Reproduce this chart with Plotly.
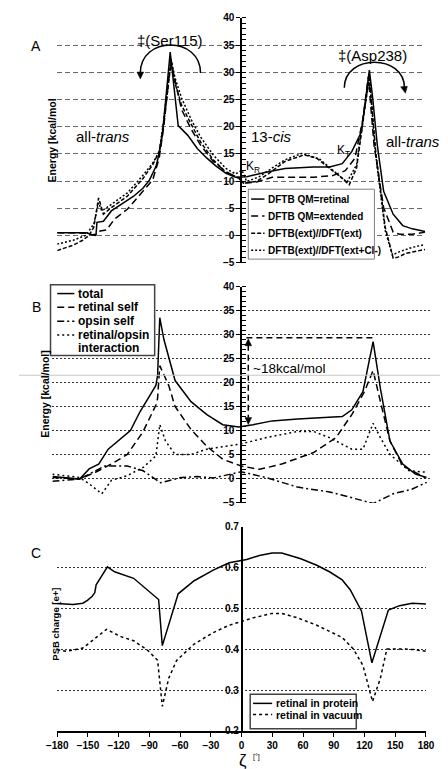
import plotly.graph_objects as go

W, H = 448, 769
FONT = "Liberation Sans, Arial, sans-serif"

# ---------------- DATA ----------------
# Panel A: energy profiles [kcal/mol] vs torsion zeta [deg]
A_ret_x = [-180, -152, -145.7, -142, -141.1, -134.8, -127, -117.7, -105.2, -95.9, -89.6, -83.3, -80.2, -77.1,
           -73.4, -69.4, -61.6, -52.2, -42.9, -33.5, -24.2, -14.8, -5.5, 5.5, 24.2, 42.9, 70.9, 86.5, 99,
           108.3, 117.7, 122.3, 125.5, 128.6, 133.3, 139.5, 148.8, 158.2, 167.6, 180]
A_ret_y = [0.5, 0.5, 0.1, 0.2, 2.4, 2.6, 4.5, 5.7, 7.2, 8.7, 10.2, 12.7, 15.1, 18.4,
           25.6, 33.7, 20.2, 18.4, 16.0, 14.2, 12.7, 11.4, 10.7, 10.8, 11.6, 12.3, 12.6, 12.6, 13.2,
           15.4, 19.0, 25.6, 30.4, 25.6, 16.6, 8.1, 3.9, 1.8, 1.2, 0.7]

A_ext_x = [-180, -152, -142.6, -138, -131.7, -123.9, -111.4, -95.9, -86.5, -80.2, -75.6, -70.9, -68.4, -58.4,
           -49.1, -39.7, -27.3, -14.8, -2.3, 2.3, 14.8, 30.4, 70.9, 89.6, 102, 111.4, 119.2, 124.5, 130.1,
           139.5, 148.8, 155.1, 167.6, 180]
A_ext_y = [0.5, 0.4, 0.0, 0.8, 1.0, 3.0, 4.8, 8.1, 10.2, 14.2, 20.2, 28.6, 31.6, 23.2,
           19.6, 16.6, 13.6, 11.7, 10.5, 9.6, 9.8, 10.7, 10.7, 11.0, 11.9, 14.2, 21.4, 29.2, 16.6,
           5.1, 0.6, 0.2, 0.2, 0.6]

A_dft_x = [-180, -164.4, -155.1, -148.9, -144.2, -139.5, -134.8, -127, -111.4, -95.9, -86.5, -80.2, -75.6,
           -70.9, -68.4, -64.7, -58.4, -49.1, -39.7, -27.3, -14.8, -2.3, 2.3, 14.8, 27.3, 42.9, 61.6, 74,
           86.5, 99, 105.8, 113, 119.2, 125.5, 131.7, 141, 148.8, 153.5, 161.3, 180]
A_dft_y = [-2.8, -1.8, -0.9, 0.0, 1.5, 6.9, 3.9, 5.1, 7.2, 10.5, 13.0, 15.4, 20.8,
           28.6, 32.2, 28.0, 24.0, 20.5, 17.2, 13.9, 11.6, 10.6, 9.6, 9.9, 11.4, 13.6, 14.8, 14.2,
           12.4, 10.5, 9.3, 12.4, 20.8, 29.5, 15.4, 1.5, -4.2, -4.0, -3.3, -2.6]

A_cl_x = [-180, -164.4, -152, -144.2, -139.5, -136.4, -127, -111.4, -95.9, -86.5, -80.2, -75.6, -70.9, -68.7,
          -64.7, -58.4, -49.1, -39.7, -27.3, -14.8, -5.5, 0.8, 5.5, 17.9, 30.4, 42.9, 60, 77.1, 92.7,
          103.6, 113, 119.2, 125.5, 131.7, 141, 148.2, 155.1, 167.6, 180]
A_cl_y = [-1.6, -0.9, 0.0, 2.1, 6.0, 4.5, 5.7, 7.8, 11.1, 13.3, 15.4, 21.4, 29.2, 32.5,
          29.0, 25.3, 21.4, 18.1, 14.8, 12.3, 11.3, 12.0, 9.9, 10.8, 12.4, 13.9, 15.1, 14.0, 11.5,
          9.8, 13.0, 21.4, 28.9, 14.8, 0.9, -3.6, -3.0, -2.2, -1.7]

A_names = ["DFTB QM=retinal", "DFTB QM=extended", "DFTB(ext)//DFT(ext)", "DFTB(ext)//DFT(ext+Cl-)"]

# Panel B: energy decomposition [kcal/mol]
B_tot_x = [-180, -166.2, -154, -145, -135.9, -126.8, -117.7, -105.6, -96.5, -87.3, -81.3, -79.7, -77.6, -73.7,
           -63, -47.8, -32.7, -17.5, -2.3, 11.4, 29.6, 53.9, 78.2, 96.5, 105.6, 116.2, 125.9, 132.9, 142,
           154.2, 166.3, 176.9]
B_tot_y = [0.5, 0.3, 0.0, 2.1, 3.1, 6.2, 7.9, 10.1, 14.0, 17.5, 19.5, 21.6, 33.6, 29.1,
           20.5, 16.1, 13.4, 11.3, 10.8, 11.3, 12.1, 12.5, 12.7, 13.0, 14.4, 18.2, 28.6, 18.8, 7.9,
           3.1, 1.0, 0.3]

B_ret_x = [-180, -154, -139, -123.8, -108.6, -93.4, -81.3, -79.7, -77.6, -69.1, -63, -47.8, -32.7, -17.5,
           0, 17.5, 38.7, 69.1, 90.4, 105.6, 117.7, 125.9, 132.9, 142, 154.2, 175.4]
B_ret_y = [0.3, 0.0, 1.4, 3.1, 5.1, 9.9, 15.4, 16.8, 23.6, 19.5, 15.1, 10.3, 6.8, 4.1,
           2.7, 2.0, 3.1, 5.5, 8.6, 13.4, 18.2, 22.6, 16.1, 7.9, 2.7, 0.3]

B_ops_x = [-180, -154, -129.9, -108.6, -93.4, -76.8, -57, -41.8, -26.6, 0, 23.5, 53.9, 84.3, 126.2, 145,
           163.3, 177]
B_ops_y = [-0.5, 0.0, 2.7, 2.7, 1.7, -0.8, 0.3, 0.5, 0.2, 1.5, 0.3, -1.7, -2.7, -5.1, -3.1,
           -2.1, -0.7]

B_int_x = [-180, -154, -145, -132.9, -123.8, -108.6, -93.4, -81.3, -77.6, -72.1, -63, -47.8, -32.7, -14.4,
           0, 23.5, 53.9, 69.1, 84.3, 105.6, 116.2, 125.9, 132.9, 142, 160.3, 177]
B_int_y = [1.0, 0.3, -1.0, -3.1, -0.3, 0.7, 2.4, 4.8, 11.3, 7.9, 5.1, 5.1, 6.2, 6.8,
           7.3, 8.6, 9.9, 9.9, 8.6, 6.2, 6.2, 11.6, 8.6, 5.1, 1.7, 1.4]

B_names = ["total", "retinal self", "opsin self", "retinal/opsin"]

# Panel C: PSB charge [e+]
C_prot_x = [-180, -164.5, -155, -150.5, -145.8, -143.3, -142, -138, -131, -124, -105.4, -81, -77.4, -61.9,
            -46.3, -27.7, -12.1, 5, 17.4, 29.8, 39.2, 57.8, 73.4, 85.8, 98.2, 106, 117, 127.2, 143.3,
            154.2, 166.6, 180]
C_prot_y = [0.512, 0.510, 0.513, 0.520, 0.530, 0.539, 0.558, 0.574, 0.602, 0.590, 0.574, 0.522, 0.409, 0.536,
            0.568, 0.594, 0.612, 0.620, 0.630, 0.636, 0.636, 0.622, 0.606, 0.590, 0.570, 0.546, 0.494, 0.367,
            0.496, 0.507, 0.513, 0.511]

C_vac_x = [-180, -170.7, -155, -145.8, -131.8, -117.8, -105.4, -91.4, -82, -77.4, -71.2, -63.4, -46.3, -27.7,
           -12.1, 11.2, 29.8, 39.2, 54.7, 73.4, 85.8, 98.2, 109, 118.4, 127.8, 135.5, 141.8, 157.3, 169.7, 180]
C_vac_y = [0.399, 0.395, 0.403, 0.421, 0.449, 0.431, 0.421, 0.397, 0.373, 0.260, 0.329, 0.373, 0.413, 0.441,
           0.459, 0.477, 0.488, 0.488, 0.477, 0.459, 0.445, 0.429, 0.401, 0.361, 0.272, 0.329, 0.401, 0.401,
           0.399, 0.395]

C_names = ["retinal in protein", "retinal in vacuum"]

x_ticks = [-180, -150, -120, -90, -60, -30, 0, 30, 60, 90, 120, 150, 180]

# ---------------- STYLES ----------------
A_dash = ["solid", "7px,4px", "4px,2px", "2px,2px"]
B_dash = ["solid", "7px,4px", "7px,3px,2px,3px", "2px,3px"]
C_dash = ["solid", "3px,3px"]


def PX(x):
    return x / W


def PY(y):
    return 1 - y / H


fig = go.Figure()

for (xs, ys), d in zip([(A_ret_x, A_ret_y), (A_ext_x, A_ext_y), (A_dft_x, A_dft_y), (A_cl_x, A_cl_y)], A_dash):
    fig.add_trace(go.Scatter(x=xs, y=ys, mode="lines", xaxis="x", yaxis="y", showlegend=False,
                             line=dict(color="black", width=1.5, dash=d)))
for (xs, ys), d in zip([(B_tot_x, B_tot_y), (B_ret_x, B_ret_y), (B_ops_x, B_ops_y), (B_int_x, B_int_y)], B_dash):
    fig.add_trace(go.Scatter(x=xs, y=ys, mode="lines", xaxis="x2", yaxis="y2", showlegend=False,
                             line=dict(color="black", width=1.5, dash=d)))
for (xs, ys), d in zip([(C_prot_x, C_prot_y), (C_vac_x, C_vac_y)], C_dash):
    fig.add_trace(go.Scatter(x=xs, y=ys, mode="lines", xaxis="x3", yaxis="y3", showlegend=False,
                             line=dict(color="black", width=1.5, dash=d)))

tickfont = dict(family=FONT, size=10, color="black", weight="bold")


def yax(domain, rng, dtick, pos, gridcolor, griddash, minor=True, fmt=None):
    d = dict(domain=domain, range=rng, dtick=dtick, anchor="free", position=pos,
             showline=True, linecolor="black", linewidth=1.5,
             ticks="outside", ticklen=4, tickwidth=1, tickcolor="black",
             showgrid=True, gridcolor=gridcolor, griddash=griddash, gridwidth=1,
             zeroline=False, tickfont=tickfont)
    if fmt:
        d["tickformat"] = fmt
    if minor:
        d["minor"] = dict(dtick=1, ticks="inside", ticklen=4, tickwidth=1, tickcolor="black", showgrid=False)
    return d


layout = dict(
    width=W, height=H, margin=dict(l=0, r=0, t=0, b=0),
    paper_bgcolor="white", plot_bgcolor="white", showlegend=False,
    xaxis=dict(domain=[PX(40), PX(425)], range=[-180, 180], visible=False, anchor="y"),
    xaxis2=dict(domain=[PX(35), PX(430)], range=[-180, 180], visible=False, anchor="y2"),
    xaxis3=dict(domain=[PX(40), PX(426)], range=[-180, 180], anchor="y3", showline=True,
                linecolor="black", linewidth=1.5, ticks="outside", ticklen=4, tickcolor="black",
                tickvals=x_ticks, showgrid=False, zeroline=False, tickfont=tickfont),
    yaxis=yax([PY(252.5), PY(4)], [-5, 40], 5, PX(232.5), "#6a6a6a", "5px,3px"),
    yaxis2=yax([PY(496.7), PY(277.3)], [-5, 40], 5, PX(232.5), "#333333", "2px,2px"),
    yaxis3=yax([PY(728.3), PY(521)], [0.2, 0.7], 0.1, PX(233), "#333333", "2px,2px", minor=False, fmt=".1f"),
)
layout["yaxis3"]["ticks"] = ""
fig.update_layout(**layout)

shapes = []
ann = []


def text(x, y, s, size, bold=False, xanchor="center", angle=0):
    ann.append(dict(x=PX(x), y=PY(y), xref="paper", yref="paper", text=s, showarrow=False,
                    xanchor=xanchor, yanchor="middle", textangle=angle,
                    font=dict(family=FONT, size=size, color="black", weight="bold" if bold else "normal")))


def pline(x0, y0, x1, y1, dash="solid", width=1.5, color="black"):
    shapes.append(dict(type="line", xref="paper", yref="paper", x0=PX(x0), y0=PY(y0), x1=PX(x1), y1=PY(y1),
                       line=dict(color=color, width=width, dash=dash), layer="above"))


def tri(pts):
    p = "M " + " L ".join("{} {}".format(PX(a), PY(b)) for a, b in pts) + " Z"
    shapes.append(dict(type="path", xref="paper", yref="paper", path=p, fillcolor="black",
                       line=dict(color="black", width=0.5), layer="above"))


def arc(cx, cy, rx, ry):
    k = 4 / 3
    p = "M {} {} C {} {} {} {} {} {}".format(PX(cx - rx), PY(cy), PX(cx - rx), PY(cy - k * ry),
                                            PX(cx + rx), PY(cy - k * ry), PX(cx + rx), PY(cy))
    shapes.append(dict(type="path", xref="paper", yref="paper", path=p,
                       line=dict(color="black", width=1.5), layer="above"))


# Panel labels
text(18, 33, "A", 14)
text(18, 298, "B", 14)
text(18, 548, "C", 14)

# Panel A annotations
text(158.5, 27, "‡(Ser115)", 15)
text(370, 42, "‡(Asp238)", 15)
arc(158.5, 60, 31.5, 28.5)
tri([(123.5, 59), (130.5, 59), (127, 66)])
arc(372, 75, 31.5, 26)
tri([(399.5, 74), (406.5, 73.5), (404.5, 80.5)])
text(87.5, 124, "all-<i>trans</i>", 15)
text(264, 124, "13-<i>cis</i>", 15)
text(412.5, 130, "all-<i>trans</i>", 15)
text(245, 155, "K<sub>R</sub>", 12)
text(340, 139, "K<sub>T</sub>", 12)
text(35, 128, "Energy [kcal/mol", 10.5, bold=True, angle=-90)

# Panel A legend
shapes.append(dict(type="rect", xref="paper", yref="paper", x0=PX(240), y0=PY(249), x1=PX(372), y1=PY(178),
                   fillcolor="white", line=dict(color="#808080", width=1), layer="above"))
for i, (nm, d) in enumerate(zip(A_names, A_dash)):
    yy = 188 + i * 17.3
    pline(243, yy, 257, yy, dash=d, width=1.5)
    text(258.5, yy, nm, 10, bold=True, xanchor="left")

# Panel B annotations
text(27, 386, "Energy [kcal/mol]", 10.5, bold=True, angle=-90)
pline(238, 329, 371, 329, dash="6px,4px", width=1.5)
pline(240, 336, 240, 410, dash="6px,4px", width=1.5)
tri([(236.5, 337), (243.5, 337), (240, 330)])
tri([(236.5, 410), (243.5, 410), (240, 417)])
text(243, 360, "~18kcal/mol", 13.5, xanchor="left")

# Panel B legend
shapes.append(dict(type="rect", xref="paper", yref="paper", x0=PX(33), y0=PY(347), x1=PX(142), y1=PY(275),
                   fillcolor="white", line=dict(color="#444444", width=1.5), layer="above"))
for i, (nm, d) in enumerate(zip(B_names, B_dash)):
    yy = 284 + i * 14
    pline(40, yy, 58, yy, dash=d, width=1.5)
    text(60, yy, nm, 12, bold=True, xanchor="left")
text(60, 339.5, "interaction", 12, bold=True, xanchor="left")

# Panel C annotations
text(38, 620, "PSB charge [e+]", 9.5, bold=True, angle=-90)
text(234, 758, "ζ", 17)
text(243, 755, "[°]", 7, xanchor="left")

# Panel C legend
shapes.append(dict(type="rect", xref="paper", yref="paper", x0=PX(242), y0=PY(726), x1=PX(353), y1=PY(691),
                   fillcolor="white", line=dict(color="#444444", width=1.5), layer="above"))
for i, (nm, d) in enumerate(zip(C_names, C_dash)):
    yy = 700.3 + i * 11.4
    pline(245, yy, 265, yy, dash=d, width=1.5)
    text(266.5, yy, nm, 10.5, bold=True, xanchor="left")

# faint scan line across the page
pline(0, 367, 448, 367, width=1, color="#c8c8c8")

fig.update_layout(shapes=shapes, annotations=ann)
fig.write_html("out.html")
